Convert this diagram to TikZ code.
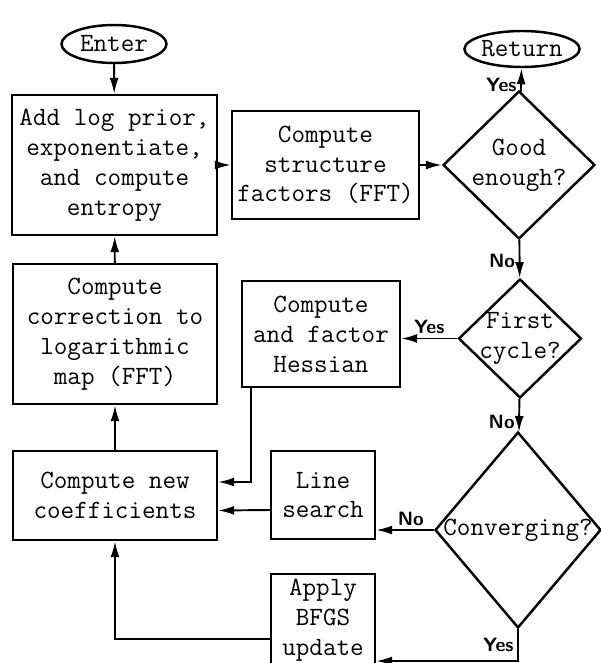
\documentclass[tikz,border=0pt]{standalone}
\usetikzlibrary{shapes.geometric,arrows.meta}

\tikzset{
  block/.style={draw, line width=1.4pt, rectangle, align=center, inner sep=0pt},
  terminal/.style={draw, line width=1.4pt, ellipse, inner sep=0pt},
  decision/.style={draw, line width=1.4pt, diamond, inner sep=0pt},
  flow/.style={line width=1.1pt, -{Latex[length=3.2mm,width=1.8mm]}},
  answer/.style={font=\fontsize{11}{13}\selectfont\sffamily\bfseries, inner sep=2pt},
}

\begin{document}
\begin{tikzpicture}[x=0.02cm, y=-0.02cm, font=\fontsize{15}{17}\selectfont\ttfamily]
\useasboundingbox (0,0) rectangle (601,663);

% left column
\node[terminal, minimum width=2.1cm, minimum height=0.76cm] (enter) at (114,44) {Enter};
\node[block, minimum width=4.1cm, minimum height=2.8cm] (addlog) at (114.5,165) {Add log prior,\\exponentiate,\\and compute\\entropy};
\node[block, minimum width=4.08cm, minimum height=2.8cm] (corr) at (115,334) {Compute\\correction to\\logarithmic\\map (FFT)};
\node[block, minimum width=4.08cm, minimum height=1.78cm] (newcoef) at (115,495.5) {Compute new\\coefficients};

% middle column
\node[block, minimum width=3.74cm, minimum height=2.16cm] (struct) at (325.5,165) {Compute\\structure\\factors (FFT)};
\node[block, minimum width=3.16cm, minimum height=2.12cm] (hessian) at (321,334) {Compute\\and factor\\Hessian};
\node[block, minimum width=2.08cm, minimum height=1.76cm] (line) at (323,495) {Line\\search};
\node[block, minimum width=2.08cm, minimum height=1.84cm] (bfgs) at (323,620) {Apply\\BFGS\\update};

% right column
\node[terminal, minimum width=2.08cm, minimum height=0.72cm] (return) at (522,49) {Return};
\node[decision, minimum width=3.04cm, minimum height=2.96cm,
  label={[align=center]center:Good\\enough?}] (good) at (519,165) {};
\node[decision, minimum width=2.46cm, minimum height=2.38cm,
  label={[align=center]center:First\\cycle?}] (first) at (520,338.5) {};
\node[decision, minimum width=3.32cm, minimum height=3.92cm,
  label={center:Converging?}] (conv) at (518,530) {};

\coordinate (yesbend) at (518,661);

% connectors
\draw[flow] (enter) -- (addlog);
\draw[flow] (addlog.east |- struct.west) -- (struct);
\draw[flow] (struct) -- (good);
\draw[flow] (good) -- node[answer, pos=0.3, left] {Yes} (return);
\draw[flow] (good) -- node[answer, pos=0.55, left] {No} (first);
\draw[flow] (first) -- node[answer, above] {Yes} (first.west -| hessian.east);
\draw[flow] (first) -- node[answer, pos=0.7, left] {No} (conv);
\draw[flow] (conv) -- node[answer, pos=0.4, above] {No} (conv.west -| line.east);
\draw[flow] (conv.south) -- node[answer, left] {Yes} (yesbend) -- (yesbend -| bfgs.east);
\draw[flow] ([xshift=0.2cm]hessian.south west) |- ([yshift=0.27cm]newcoef.east);
\draw[flow] ([yshift=-0.3cm]line.west) -- ([yshift=-0.3cm]newcoef.east);
\draw[flow] ([yshift=-0.38cm]bfgs.west) -| (newcoef.south);
\draw[flow] (newcoef) -- (corr);
\draw[flow] (corr) -- (addlog);
\end{tikzpicture}
\end{document}
